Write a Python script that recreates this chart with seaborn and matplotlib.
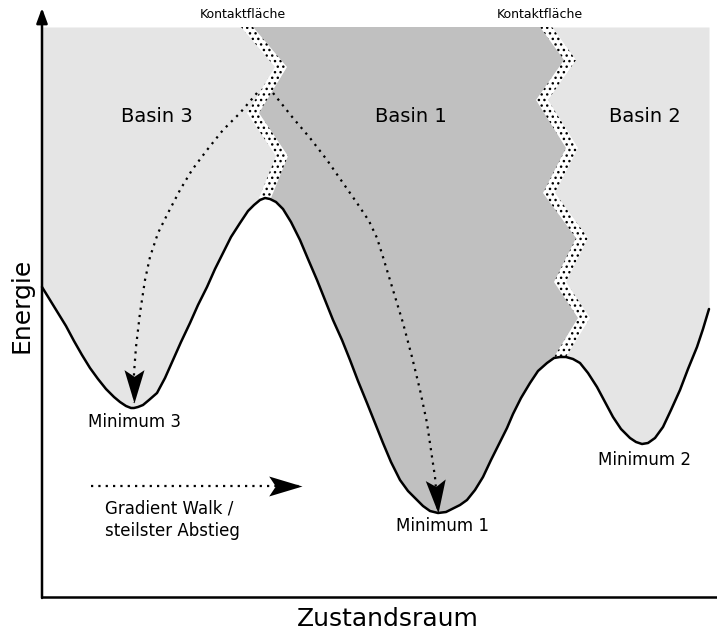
import numpy as np
import matplotlib
matplotlib.use('Agg')
import matplotlib.pyplot as plt
from matplotlib.markers import MarkerStyle
from matplotlib.path import Path
from matplotlib.transforms import Affine2D
import seaborn as sns

### DATA (pixel units, y grows downwards)

# energy landscape
curve_x = [42, 50, 58, 66, 74, 82, 90, 98, 106, 114, 120, 126, 131, 134, 138, 143, 149,
           157, 165, 173, 181, 190, 198, 207, 215, 223, 231, 240, 248, 254, 260, 265,
           270, 276, 283, 291, 300, 308, 317, 325, 333, 342, 350, 358, 367, 375, 383,
           391, 400, 408, 417, 423, 430, 438, 446, 452, 460, 467, 475, 483, 491, 500,
           507, 513, 521, 530, 538, 547, 554, 560, 566, 573, 580, 588, 597, 605, 613,
           621, 630, 636, 642, 648, 655, 663, 671, 680, 688, 697, 703, 709]
curve_y = [287, 300, 313, 326, 341, 355, 368, 379, 389, 397, 402, 406, 408, 408, 407, 405, 400,
           393, 378, 360, 342, 323, 305, 287, 269, 253, 237, 223, 211, 205, 200, 198,
           199, 202, 209, 222, 240, 259, 280, 300, 320, 340, 360, 381, 403, 423, 443,
           462, 480, 491, 500, 506, 511, 513, 512, 509, 505, 500, 490, 477, 460, 442,
           428, 414, 398, 383, 371, 363, 358, 357, 357, 359, 363, 373, 387, 402, 417,
           429, 438, 442, 444, 443, 438, 427, 410, 390, 369, 347, 329, 309]

# contact surfaces between the basins (centre line of the dotted band)
border1_x = [247, 281, 253, 282, 265]
border1_y = [27, 67, 113, 156, 198]
border2_x = [546, 570, 542, 572, 549, 582, 560, 584, 560]
border2_y = [27, 60, 100, 148, 193, 238, 282, 318, 357]

# gradient walks down to the minima (last point = arrow tip)
walk3_x = [257, 240, 223, 207, 192, 180, 168, 158, 150, 145, 140, 136, 134, 134]
walk3_y = [93, 113, 130, 150, 170, 190, 213, 233, 257, 280, 313, 347, 373, 403]
walk1_x = [273, 293, 310, 327, 343, 357, 369, 377, 383, 393, 403, 412, 420, 427, 432,
           435, 438]
walk1_y = [93, 118, 138, 160, 183, 203, 221, 238, 257, 290, 323, 357, 390, 423, 457,
           477, 513]

# legend arrow
key_x = [91, 302]
key_y = [486, 486]

basin_names = ['Basin 3', 'Basin 1', 'Basin 2']
basin_x = [157, 411, 645]
min_names = ['Minimum 3', 'Minimum 1', 'Minimum 2']
min_x = [135, 442, 645]
min_y = [422, 526, 460]
contact_x = [243, 540]

top_y = 27

### PLOT

sns.set_style('white')
plt.rcParams['font.family'] = ['DejaVu Sans']
plt.rcParams['text.color'] = 'black'
plt.rcParams['hatch.color'] = 'black'
plt.rcParams['hatch.linewidth'] = 1.0

fig = plt.figure(figsize=(7.17, 6.35), dpi=100)
ax = fig.add_axes([0, 0, 1, 1])

# basin shading
ax.fill_between(curve_x, curve_y, top_y, color='#e5e5e5', lw=0, zorder=1)
inner = [i for i, x in enumerate(curve_x) if border1_x[-1] <= x <= border2_x[-1]]
poly_x = border1_x + [curve_x[i] for i in inner] + border2_x[::-1]
poly_y = border1_y + [curve_y[i] for i in inner] + border2_y[::-1]
ax.fill(poly_x, poly_y, color='#c0c0c0', lw=0, zorder=2)

# dotted white bands (Kontaktfläche)
for bx, by in [(border1_x, border1_y), (border2_x, border2_y)]:
    bx = np.array(bx)
    ax.fill_betweenx(by, bx - 6, bx + 6, facecolor='white', edgecolor='black',
                     hatch='...', lw=0, zorder=3)

# energy curve
sns.lineplot(x=curve_x, y=curve_y, sort=False, estimator=None, color='black',
             lw=1.8, ax=ax, zorder=4, solid_joinstyle='round')

# gradient walks
head = Path([(0, 0), (-1, 0.3), (-0.8, 0), (-1, -0.3), (0, 0)],
            [Path.MOVETO, Path.LINETO, Path.LINETO, Path.LINETO, Path.CLOSEPOLY])

for wx, wy in [(walk3_x, walk3_y), (walk1_x, walk1_y), (key_x, key_y)]:
    sns.lineplot(x=wx, y=wy, sort=False, estimator=None, color='black', lw=1.6,
                 linestyle=(0, (1, 2.3)), ax=ax, zorder=5)
    # arrow head pointing along the last segment
    angle = np.degrees(np.arctan2(-(wy[-1] - wy[-2]), wx[-1] - wx[-2]))
    m = MarkerStyle(head, transform=Affine2D().rotate_deg(angle))
    ax.plot(wx[-1], wy[-1], marker=m, ms=48, color='black', mew=0, zorder=6)

# axes
ax.plot([42, 717], [597, 597], color='black', lw=1.8, solid_capstyle='butt', zorder=6)
ax.annotate('', xy=(42, 8), xytext=(42, 598),
            arrowprops=dict(arrowstyle='-|>,head_length=0.9,head_width=0.33',
                            lw=1.8, color='black', shrinkA=0, shrinkB=0,
                            mutation_scale=10), zorder=6)

# labels
ax.text(22, 305, 'Energie', rotation=90, fontsize=18, ha='center', va='center')
ax.text(388, 619, 'Zustandsraum', fontsize=18, ha='center', va='center')
for name, x in zip(basin_names, basin_x):
    ax.text(x, 117, name, fontsize=14, ha='center', va='center', zorder=7)
for name, x, y in zip(min_names, min_x, min_y):
    ax.text(x, y, name, fontsize=12, ha='center', va='center', zorder=7)
for x in contact_x:
    ax.text(x, 14, 'Kontaktfläche', fontsize=9, ha='center', va='center')
ax.text(105, 520, 'Gradient Walk /\nsteilster Abstieg', fontsize=12,
        ha='left', va='center', linespacing=1.3)

ax.set_xlim(0, 717)
ax.set_ylim(635, 0)
ax.axis('off')

plt.savefig('out.png', dpi=100)
